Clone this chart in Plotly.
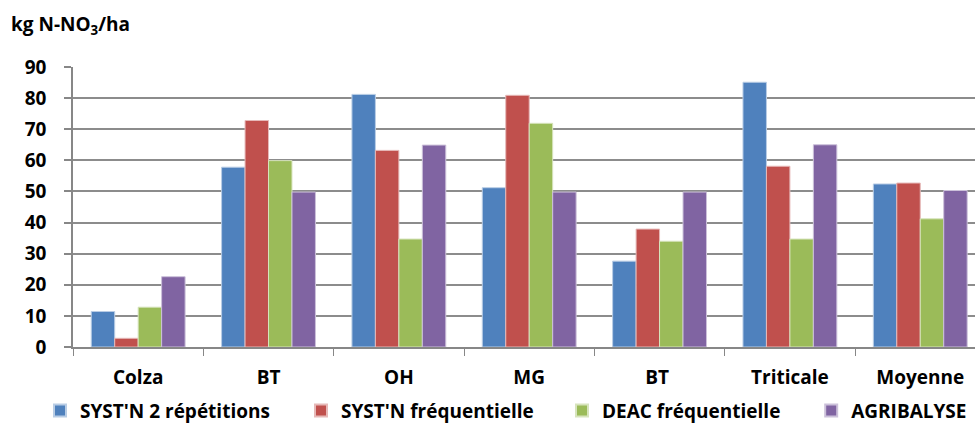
import plotly.graph_objects as go

categories = ["Colza", "BT", "OH", "MG", "BT ", "Triticale", "Moyenne"]
syst_2rep = [11.4, 57.8, 81.2, 51.2, 27.6, 85.1, 52.4]
syst_freq = [2.8, 72.8, 63.2, 80.9, 37.9, 58.1, 52.7]
deac_freq = [12.8, 59.9, 34.7, 71.9, 34.0, 34.7, 41.2]
agribalyse = [22.6, 49.8, 64.9, 49.8, 49.8, 65.0, 50.3]

series_names = ["SYST'N 2 répétitions", "SYST'N fréquentielle", "DEAC fréquentielle", "AGRIBALYSE"]
series_values = [syst_2rep, syst_freq, deac_freq, agribalyse]
colors = ["#4F81BD", "#C0504D", "#9BBB59", "#8064A2"]
borders = ["#B9CDE5", "#E6B9B8", "#D7E4BD", "#CCC1DA"]
legends = ["legend", "legend", "legend", "legend2"]

yticks = [0, 10, 20, 30, 40, 50, 60, 70, 80, 90]

FONT = "'Open Sans', sans-serif"
FS = 19

fig = go.Figure()
for name, vals, c, b, lg in zip(series_names, series_values, colors, borders, legends):
    fig.add_trace(go.Bar(x=categories, y=vals, name=name, legend=lg,
                         marker=dict(color=c, line=dict(color=b, width=1))))

legend_common = dict(orientation="h", xref="container", xanchor="left",
                     y=0.045, yref="container", yanchor="middle",
                     font=dict(family=FONT, size=FS, color="black", weight="bold"),
                     itemsizing="constant", tracegroupgap=0,
                     bgcolor="rgba(0,0,0,0)")

fig.update_layout(
    width=975, height=430,
    margin=dict(l=73, r=0, t=67, b=83, autoexpand=False),
    paper_bgcolor="white", plot_bgcolor="white",
    barmode="group", bargap=0.28, bargroupgap=0,
    font=dict(family=FONT, size=FS, color="black"),
    showlegend=True,
    legend=dict(x=0.041, entrywidth=216, entrywidthmode="pixels", **legend_common),
    legend2=dict(x=0.832, **legend_common),
    annotations=[dict(text="kg N-NO<sub>3</sub>/ha", xref="paper", yref="paper",
                      x=-73/902 + 9/902, y=1 + 42/280, xanchor="left", yanchor="middle",
                      showarrow=False, font=dict(family=FONT, size=19, color="black", weight="bold"))],
)

fig.update_xaxes(
    type="category", range=[-0.5, 6.42],
    showline=True, linecolor="#878787", linewidth=1.5,
    ticks="outside", tickson="boundaries", ticklen=7, tickcolor="#878787", tickwidth=1,
    tickfont=dict(family=FONT, size=FS, color="black", weight="bold"),
    ticklabelstandoff=12, showgrid=False,
)
fig.update_yaxes(
    range=[0, 90], tickvals=yticks, ticktext=[str(v) for v in yticks],
    showline=True, linecolor="#878787", linewidth=1.5,
    ticks="outside", ticklen=7, tickcolor="#878787", tickwidth=1.5,
    showgrid=True, gridcolor="#8C8C8C", gridwidth=1.5,
    zeroline=False,
    tickfont=dict(family=FONT, size=FS, color="black", weight="bold"),
    ticklabelstandoff=14,
)

fig.write_html("out.html")
